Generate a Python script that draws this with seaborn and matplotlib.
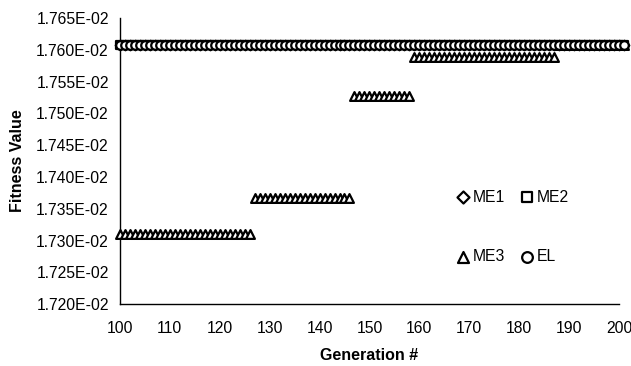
import numpy as np
import pandas as pd
import matplotlib
matplotlib.use("Agg")
import matplotlib.pyplot as plt
import seaborn as sns
from matplotlib.ticker import FuncFormatter

# Data
generations = list(range(100, 202))
me3_seg_starts = [100, 127, 147, 159, 188]
me3_seg_values = [0.017311, 0.017367, 0.017527, 0.017588, 0.017607]
me1_value = 0.017607
me2_value = 0.017607
el_value = 0.017607

x_ticks = [100, 110, 120, 130, 140, 150, 160, 170, 180, 190, 200]
y_ticks = [0.01720, 0.01725, 0.01730, 0.01735, 0.01740, 0.01745,
           0.01750, 0.01755, 0.01760, 0.01765]

me3 = []
for g in generations:
    v = me3_seg_values[0]
    for s, val in zip(me3_seg_starts, me3_seg_values):
        if g >= s:
            v = val
    me3.append(v)

df = pd.DataFrame({
    "gen": generations * 4,
    "val": [me1_value] * len(generations) + [me2_value] * len(generations)
           + me3 + [el_value] * len(generations),
    "series": ["ME1"] * len(generations) + ["ME2"] * len(generations)
              + ["ME3"] * len(generations) + ["EL"] * len(generations),
})

sns.set_style("white")
plt.rcParams["font.family"] = ["Liberation Sans", "DejaVu Sans"]
plt.rcParams["text.color"] = "black"
plt.rcParams["axes.labelcolor"] = "black"
plt.rcParams["xtick.color"] = "black"
plt.rcParams["ytick.color"] = "black"

fig = plt.figure(figsize=(6.31, 3.66), dpi=100)
ax = fig.add_axes([0.190, 0.169, 0.791, 0.782])

markers = {"ME1": "D", "ME2": "s", "ME3": "^", "EL": "o"}
sizes = {"ME1": 24, "ME2": 34, "ME3": 40, "EL": 38}
for name in ["ME1", "ME2", "ME3", "EL"]:
    sub = df[df["series"] == name]
    sns.scatterplot(data=sub, x="gen", y="val", ax=ax, marker=markers[name],
                    s=sizes[name], facecolor="white", edgecolor="black",
                    linewidth=1.6, label=name, clip_on=False, zorder=3)

ax.set_xlim(100, 200)
ax.set_ylim(0.01720, 0.01765)
ax.set_xticks(x_ticks)
ax.set_yticks(y_ticks)
ax.yaxis.set_major_formatter(FuncFormatter(lambda v, p: "{:.3E}".format(v)))
ax.tick_params(axis="both", direction="inout", length=8, width=1,
               color="black", labelsize=11.3, labelcolor="black")
ax.tick_params(axis="x", pad=8)
ax.tick_params(axis="y", pad=4)
for s in ["top", "right"]:
    ax.spines[s].set_visible(False)
for s in ["left", "bottom"]:
    ax.spines[s].set_color("black")
    ax.spines[s].set_linewidth(1)

ax.set_xlabel("Generation #", fontsize=11.5, fontweight="bold", labelpad=9,
              color="black")
ax.set_ylabel("Fitness Value", fontsize=11.5, fontweight="bold", labelpad=8,
              color="black")

h, l = ax.get_legend_handles_labels()
order = [l.index(n) for n in ["ME1", "ME3", "ME2", "EL"]]
leg = ax.legend([h[i] for i in order], [l[i] for i in order], ncol=2,
                frameon=False, loc="center left",
                bbox_to_anchor=(0.653, 0.27), fontsize=11.3,
                handletextpad=0.0, handlelength=1.2, columnspacing=0.8,
                labelspacing=2.85, borderpad=0, markerscale=1.25)
for t in leg.get_texts():
    t.set_color("black")

fig.savefig("out.png", dpi=100, facecolor="white")
